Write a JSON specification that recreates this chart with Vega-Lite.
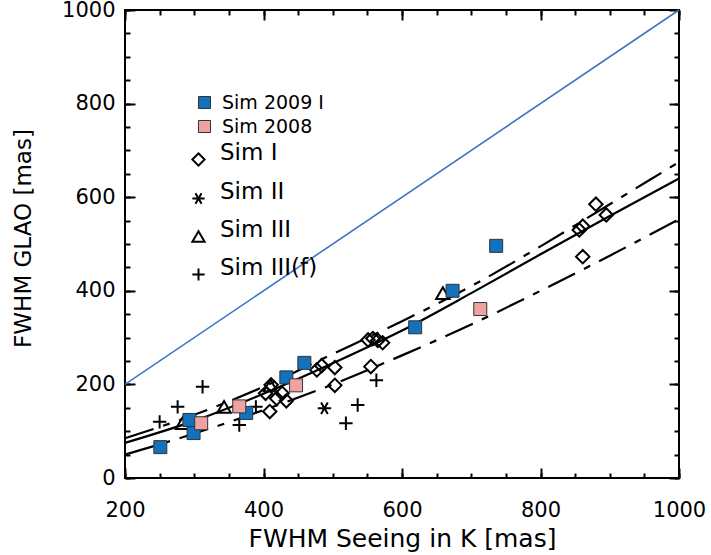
{
  "$schema": "https://vega.github.io/schema/vega-lite/v6.json",
  "width": 554,
  "height": 468,
  "autosize": "none",
  "padding": {"left": 125, "top": 10, "right": 32, "bottom": 77},
  "background": "white",
  "config": {
    "view": {"stroke": "black", "strokeWidth": 2},
    "font": "DejaVu Sans",
    "axis": {"grid": false, "domain": false, "tickColor": "black", "tickWidth": 2, "labelColor": "black", "titleColor": "black", "titleFontWeight": "normal"},
    "legend": {"padding": 0, "titleLimit": 0}
  },
  "datasets": {
    "oneone": [{"x": 200, "y": 200}, {"x": 1000, "y": 1000}],
    "fit_mid": [
      {"x": 200, "y": 75}, {"x": 300, "y": 122}, {"x": 400, "y": 180}, {"x": 500, "y": 245}, {"x": 600, "y": 315},
      {"x": 700, "y": 395}, {"x": 800, "y": 478}, {"x": 900, "y": 560}, {"x": 1000, "y": 640}
    ],
    "fit_upper": [
      {"x": 200, "y": 85}, {"x": 300, "y": 135}, {"x": 400, "y": 195}, {"x": 500, "y": 265}, {"x": 600, "y": 335},
      {"x": 700, "y": 410}, {"x": 800, "y": 495}, {"x": 900, "y": 585}, {"x": 1000, "y": 675}
    ],
    "fit_lower": [
      {"x": 200, "y": 50}, {"x": 300, "y": 95}, {"x": 400, "y": 145}, {"x": 500, "y": 200}, {"x": 600, "y": 262},
      {"x": 700, "y": 328}, {"x": 800, "y": 400}, {"x": 900, "y": 475}, {"x": 1000, "y": 553}
    ],
    "squares": [
      {"x": 251, "y": 66, "series": "Sim 2009 I"},
      {"x": 293, "y": 124, "series": "Sim 2009 I"},
      {"x": 299, "y": 96, "series": "Sim 2009 I"},
      {"x": 375, "y": 139, "series": "Sim 2009 I"},
      {"x": 433, "y": 215, "series": "Sim 2009 I"},
      {"x": 459, "y": 246, "series": "Sim 2009 I"},
      {"x": 619, "y": 322, "series": "Sim 2009 I"},
      {"x": 673, "y": 400, "series": "Sim 2009 I"},
      {"x": 736, "y": 496, "series": "Sim 2009 I"},
      {"x": 310, "y": 117, "series": "Sim 2008"},
      {"x": 365, "y": 153, "series": "Sim 2008"},
      {"x": 447, "y": 198, "series": "Sim 2008"},
      {"x": 713, "y": 361, "series": "Sim 2008"}
    ],
    "symbols": [
      {"x": 403, "y": 181, "series": "Sim I"},
      {"x": 411, "y": 199, "series": "Sim I"},
      {"x": 409, "y": 142, "series": "Sim I"},
      {"x": 427, "y": 181, "series": "Sim I"},
      {"x": 433, "y": 165, "series": "Sim I"},
      {"x": 419, "y": 170, "series": "Sim I"},
      {"x": 477, "y": 231, "series": "Sim I"},
      {"x": 484, "y": 240, "series": "Sim I"},
      {"x": 503, "y": 236, "series": "Sim I"},
      {"x": 503, "y": 198, "series": "Sim I"},
      {"x": 551, "y": 295, "series": "Sim I"},
      {"x": 558, "y": 298, "series": "Sim I"},
      {"x": 565, "y": 294, "series": "Sim I"},
      {"x": 572, "y": 289, "series": "Sim I"},
      {"x": 555, "y": 238, "series": "Sim I"},
      {"x": 856, "y": 530, "series": "Sim I"},
      {"x": 861, "y": 538, "series": "Sim I"},
      {"x": 880, "y": 585, "series": "Sim I"},
      {"x": 895, "y": 562, "series": "Sim I"},
      {"x": 861, "y": 473, "series": "Sim I"},
      {"x": 488, "y": 149, "series": "Sim II"},
      {"x": 283, "y": 117, "series": "Sim III"},
      {"x": 343, "y": 152, "series": "Sim III"},
      {"x": 410, "y": 198, "series": "Sim III"},
      {"x": 659, "y": 395, "series": "Sim III"},
      {"x": 250, "y": 120, "series": "Sim III(f)"},
      {"x": 276, "y": 152, "series": "Sim III(f)"},
      {"x": 312, "y": 195, "series": "Sim III(f)"},
      {"x": 365, "y": 113, "series": "Sim III(f)"},
      {"x": 389, "y": 152, "series": "Sim III(f)"},
      {"x": 519, "y": 117, "series": "Sim III(f)"},
      {"x": 536, "y": 156, "series": "Sim III(f)"},
      {"x": 563, "y": 209, "series": "Sim III(f)"}
    ]
  },
  "resolve": {"axis": {"x": "independent", "y": "independent"}},
  "layer": [
    {
      "data": {"name": "oneone"},
      "mark": {"type": "line", "color": "#3b78c4", "strokeWidth": 1.6},
      "encoding": {
        "x": {"field": "x", "type": "quantitative", "scale": {"domain": [200, 1000], "nice": false, "zero": false},
          "axis": {"orient": "bottom", "values": [200,250,300,350,400,450,500,550,600,650,700,750,800,850,900,950,1000],
            "tickSize": -5, "format": "d", "labelExpr": "datum.value % 200 === 0 ? datum.label : ''",
            "labelFontSize": 21, "labelPadding": 26, "labelFlush": false,
            "title": "FWHM Seeing in K [mas]", "titleFontSize": 25, "titleY": 68, "titleBaseline": "alphabetic"}},
        "y": {"field": "y", "type": "quantitative", "scale": {"domain": [0, 1000], "nice": false, "zero": false},
          "axis": {"orient": "left", "values": [0,50,100,150,200,250,300,350,400,450,500,550,600,650,700,750,800,850,900,950,1000],
            "tickSize": -5, "format": "d", "labelExpr": "datum.value % 200 === 0 ? datum.label : ''",
            "labelFontSize": 21, "labelPadding": 15, "labelFlush": false,
            "title": "FWHM GLAO [mas]", "titleFontSize": 23, "titleX": -102, "titleY": 228, "titleBaseline": "middle", "titleAlign": "center", "titleAngle": 270}}
      }
    },
    {
      "data": {"name": "fit_mid"},
      "mark": {"type": "line", "color": "black", "strokeWidth": 2.2, "interpolate": "monotone"},
      "encoding": {
        "x": {"field": "x", "type": "quantitative", "axis": {"orient": "bottom", "values": [200,400,600,800,1000], "tickSize": -10, "labels": false, "title": null}},
        "y": {"field": "y", "type": "quantitative", "axis": {"orient": "left", "values": [0,200,400,600,800,1000], "tickSize": -10, "labels": false, "title": null}}
      }
    },
    {
      "data": {"name": "fit_upper"},
      "mark": {"type": "line", "color": "black", "strokeWidth": 2.2, "interpolate": "monotone", "strokeDash": [30, 10, 7, 10]},
      "encoding": {
        "x": {"field": "x", "type": "quantitative", "axis": {"orient": "top", "values": [200,250,300,350,400,450,500,550,600,650,700,750,800,850,900,950,1000], "tickSize": -5, "labels": false, "title": null}},
        "y": {"field": "y", "type": "quantitative", "axis": {"orient": "right", "values": [0,50,100,150,200,250,300,350,400,450,500,550,600,650,700,750,800,850,900,950,1000], "tickSize": -5, "labels": false, "title": null}}
      }
    },
    {
      "data": {"name": "fit_lower"},
      "mark": {"type": "line", "color": "black", "strokeWidth": 2.2, "interpolate": "monotone", "strokeDash": [30, 10, 7, 10]},
      "encoding": {
        "x": {"field": "x", "type": "quantitative", "axis": {"orient": "top", "values": [200,400,600,800,1000], "tickSize": -10, "labels": false, "title": null}},
        "y": {"field": "y", "type": "quantitative", "axis": {"orient": "right", "values": [0,200,400,600,800,1000], "tickSize": -10, "labels": false, "title": null}}
      }
    },
    {
      "data": {"name": "symbols"},
      "mark": {"type": "point", "filled": false, "color": "black", "strokeWidth": 2, "size": 180, "opacity": 1},
      "encoding": {
        "x": {"field": "x", "type": "quantitative", "axis": null},
        "y": {"field": "y", "type": "quantitative", "axis": null},
        "shape": {"field": "series", "type": "nominal",
          "scale": {"domain": ["Sim I", "Sim II", "Sim III", "Sim III(f)"],
            "range": ["diamond", "M-1,0L1,0M-0.5,-0.87L0.5,0.87M-0.5,0.87L0.5,-0.87", "triangle-up", "M-1,0L1,0M0,-1L0,1"]},
          "legend": {"orient": "none", "legendX": 62, "legendY": 138, "title": null, "labelFontSize": 23, "labelBaseline": "alphabetic",
            "labelColor": "black", "symbolStrokeColor": "black", "symbolStrokeWidth": 2, "symbolSize": 150, "symbolFillColor": "transparent",
            "symbolOpacity": 1, "rowPadding": 10, "labelOffset": 10}}
      }
    },
    {
      "data": {"name": "squares"},
      "mark": {"type": "point", "shape": "square", "filled": true, "size": 169, "stroke": "#333333", "strokeWidth": 1, "opacity": 1},
      "encoding": {
        "x": {"field": "x", "type": "quantitative", "axis": null},
        "y": {"field": "y", "type": "quantitative", "axis": null},
        "fill": {"field": "series", "type": "nominal",
          "scale": {"domain": ["Sim 2009 I", "Sim 2008"], "range": ["#1272be", "#f0a2a2"]},
          "legend": {"orient": "none", "legendX": 70, "legendY": 83, "title": null, "labelFontSize": 19, "labelColor": "black",
            "symbolType": "square", "symbolSize": 144, "symbolStrokeColor": "#333333", "symbolStrokeWidth": 1, "symbolOpacity": 1,
            "rowPadding": 4, "labelOffset": 8}}
      }
    }
  ]
}
